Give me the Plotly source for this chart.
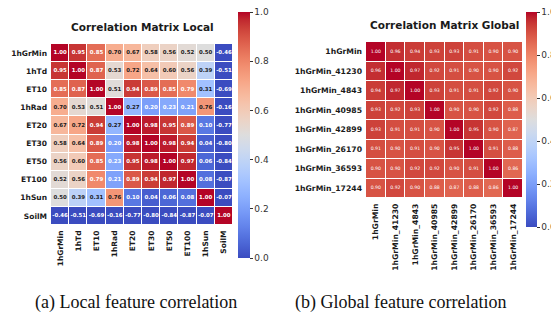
import plotly.graph_objects as go

local_labels = ["1hGrMin", "1hTd", "ET10", "1hRad", "ET20", "ET30", "ET50", "ET100", "1hSun", "SoilM"]
local_corr = [
    [1.00, 0.95, 0.85, 0.70, 0.67, 0.58, 0.56, 0.52, 0.50, -0.46],
    [0.95, 1.00, 0.87, 0.53, 0.72, 0.64, 0.60, 0.56, 0.39, -0.51],
    [0.85, 0.87, 1.00, 0.51, 0.94, 0.89, 0.85, 0.79, 0.31, -0.69],
    [0.70, 0.53, 0.51, 1.00, 0.27, 0.20, 0.23, 0.21, 0.76, -0.16],
    [0.67, 0.72, 0.94, 0.27, 1.00, 0.98, 0.95, 0.89, 0.10, -0.77],
    [0.58, 0.64, 0.89, 0.20, 0.98, 1.00, 0.98, 0.94, 0.04, -0.80],
    [0.56, 0.60, 0.85, 0.23, 0.95, 0.98, 1.00, 0.97, 0.06, -0.84],
    [0.52, 0.56, 0.79, 0.21, 0.89, 0.94, 0.97, 1.00, 0.08, -0.87],
    [0.50, 0.39, 0.31, 0.76, 0.10, 0.04, 0.06, 0.08, 1.00, -0.07],
    [-0.46, -0.51, -0.69, -0.16, -0.77, -0.80, -0.84, -0.87, -0.07, 1.00],
]

global_labels = ["1hGrMin", "1hGrMin_41230", "1hGrMin_4843", "1hGrMin_40985",
                 "1hGrMin_42899", "1hGrMin_26170", "1hGrMin_36593", "1hGrMin_17244"]
global_corr = [
    [1.00, 0.96, 0.94, 0.93, 0.93, 0.91, 0.90, 0.90],
    [0.96, 1.00, 0.97, 0.92, 0.91, 0.90, 0.90, 0.92],
    [0.94, 0.97, 1.00, 0.93, 0.91, 0.91, 0.92, 0.90],
    [0.93, 0.92, 0.93, 1.00, 0.90, 0.90, 0.92, 0.88],
    [0.93, 0.91, 0.91, 0.90, 1.00, 0.95, 0.90, 0.87],
    [0.91, 0.90, 0.91, 0.90, 0.95, 1.00, 0.91, 0.88],
    [0.90, 0.90, 0.92, 0.92, 0.90, 0.91, 1.00, 0.86],
    [0.90, 0.92, 0.90, 0.88, 0.87, 0.88, 0.86, 1.00],
]

colorbar_ticks = [0.0, 0.2, 0.4, 0.6, 0.8, 1.0]

# matplotlib "coolwarm"
cw = [
    (59, 76, 192), (68, 90, 204), (77, 104, 215), (87, 117, 225), (98, 130, 234),
    (108, 142, 241), (119, 154, 247), (130, 165, 251), (141, 176, 254), (152, 185, 255),
    (163, 194, 255), (174, 201, 253), (184, 208, 249), (194, 213, 244), (204, 217, 238),
    (213, 219, 230), (221, 221, 221), (229, 216, 209), (236, 211, 197), (241, 204, 185),
    (245, 196, 173), (247, 187, 160), (247, 177, 148), (247, 166, 135), (244, 154, 123),
    (241, 141, 111), (236, 127, 99), (229, 112, 88), (222, 96, 77), (213, 80, 66),
    (203, 62, 56), (192, 40, 47), (180, 4, 38),
]
coolwarm = [[i / (len(cw) - 1), "rgb(%d,%d,%d)" % c] for i, c in enumerate(cw)]

# page body has an 8px default margin: build the figure smaller and shift coordinates
OFF = 8
W, H = 559 - OFF, 321 - OFF
CB_SHIFT = 7  # colorbar bar is drawn a little right of its anchor


def fx(p):
    return (p - OFF) / W


def fy(p):
    return 1 - (p - OFF) / H


def px_x(a, b):
    return [fx(a), fx(b)]


def px_y(top, bottom):
    return [fy(bottom), fy(top)]


def txt_color(v):
    return "white" if (v >= 0.78 or v <= 0.25) else "#1a1a1a"


fig = go.Figure()

cb_font = dict(family="DejaVu Sans", size=9, color="#333")

# Local heatmap
fig.add_trace(go.Heatmap(
    z=local_corr, x=local_labels, y=local_labels, zmin=0, zmax=1,
    colorscale=coolwarm, xgap=1, ygap=1, xaxis="x", yaxis="y", hoverinfo="skip",
    colorbar=dict(x=fx(245 - CB_SHIFT), xanchor="left", y=fy(12), yanchor="top",
                  len=(258 - 12) / H, lenmode="fraction", thickness=12,
                  xpad=0, ypad=0, outlinewidth=0, tickvals=colorbar_ticks,
                  tickformat=".1f", ticks="outside", ticklen=3, tickcolor="#333",
                  ticklabeloverflow="allow", tickfont=cb_font),
))
lx, ly, lt, lc = [], [], [], []
for i, r in enumerate(local_labels):
    for j, c in enumerate(local_labels):
        v = local_corr[i][j]
        lx.append(c); ly.append(r); lt.append("%.2f" % v); lc.append(txt_color(v))
fig.add_trace(go.Scatter(x=lx, y=ly, text=lt, mode="text", xaxis="x", yaxis="y",
                         textfont=dict(family="DejaVu Sans", size=5.4, color=lc, weight="bold"),
                         hoverinfo="skip", showlegend=False))

# Global heatmap
fig.add_trace(go.Heatmap(
    z=global_corr, x=global_labels, y=global_labels, zmin=0, zmax=1,
    colorscale=coolwarm, xgap=1, ygap=1, xaxis="x2", yaxis="y2", hoverinfo="skip",
    colorbar=dict(x=fx(533 - CB_SHIFT), xanchor="left", y=fy(12), yanchor="top",
                  len=(227 - 12) / H, lenmode="fraction", thickness=11,
                  xpad=0, ypad=0, outlinewidth=0, tickvals=colorbar_ticks,
                  tickformat=".1f", ticks="outside", ticklen=3, tickcolor="#333",
                  ticklabeloverflow="allow", tickfont=cb_font),
))
gx, gy, gt = [], [], []
for i, r in enumerate(global_labels):
    for j, c in enumerate(global_labels):
        gx.append(c); gy.append(r); gt.append("%.2f" % global_corr[i][j])
fig.add_trace(go.Scatter(x=gx, y=gy, text=gt, mode="text", xaxis="x2", yaxis="y2",
                         textfont=dict(family="DejaVu Sans", size=4.6, color="white"),
                         hoverinfo="skip", showlegend=False))

tick_font = dict(family="DejaVu Sans", size=7.5, color="#1a1a1a", weight="bold")
tick_font2 = dict(tick_font, size=7.7)
nL, nG = len(local_labels), len(global_labels)

fig.update_layout(
    width=W, height=H, margin=dict(l=0, r=0, t=0, b=0, autoexpand=False),
    paper_bgcolor="white", plot_bgcolor="white", showlegend=False,
    xaxis=dict(domain=px_x(51, 233), anchor="y", tickangle=-90, showgrid=False,
               zeroline=False, ticks="", tickfont=tick_font, ticklabelstandoff=3,
               range=[-0.5, nL - 0.5], automargin=False),
    yaxis=dict(domain=px_y(44, 225), anchor="x", showgrid=False, zeroline=False,
               ticks="", tickfont=tick_font, ticklabelstandoff=3,
               range=[nL - 0.5, -0.5], automargin=False),
    xaxis2=dict(domain=px_x(366, 523), anchor="y2", tickangle=-90, showgrid=False,
                zeroline=False, ticks="", tickfont=tick_font2, ticklabelstandoff=3,
                range=[-0.5, nG - 0.5], automargin=False),
    yaxis2=dict(domain=px_y(42, 198), anchor="x2", showgrid=False, zeroline=False,
                ticks="", tickfont=tick_font2, ticklabelstandoff=3,
                range=[nG - 0.5, -0.5], automargin=False),
    annotations=[
        dict(text="Correlation Matrix Local", x=fx(142), y=fy(27), xref="paper", yref="paper",
             showarrow=False, xanchor="center", yanchor="middle",
             font=dict(family="DejaVu Sans", size=10.5, color="#1a1a1a", weight="bold")),
        dict(text="Correlation Matrix Global", x=fx(444), y=fy(25), xref="paper", yref="paper",
             showarrow=False, xanchor="center", yanchor="middle",
             font=dict(family="DejaVu Sans", size=10.5, color="#1a1a1a", weight="bold")),
        dict(text="(a) Local feature correlation", x=fx(136), y=fy(302), xref="paper", yref="paper",
             showarrow=False, xanchor="center", yanchor="middle",
             font=dict(family="Liberation Serif", size=18, color="#111")),
        dict(text="(b) Global feature correlation", x=fx(401), y=fy(302), xref="paper", yref="paper",
             showarrow=False, xanchor="center", yanchor="middle",
             font=dict(family="Liberation Serif", size=18, color="#111")),
    ],
)

fig.write_html("out.html")
